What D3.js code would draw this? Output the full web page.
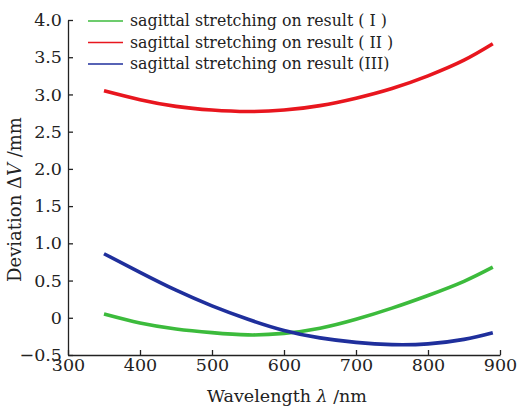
<!DOCTYPE html>
<html>
<head>
<meta charset="utf-8">
<script src="https://cdn.jsdelivr.net/npm/d3@7"></script>
<style>
body { margin: 0; background: #fff; }
svg text { font-family: "DejaVu Serif", serif; fill: #222; }
</style>
</head>
<body>
<div id="chart"></div>
<script>
var wavelengths = [350, 400, 450, 500, 550, 600, 650, 700, 750, 800, 850, 890];
var resultI   = [0.05, -0.07, -0.15, -0.20, -0.23, -0.21, -0.14, -0.02, 0.13, 0.30, 0.49, 0.68];
var resultII  = [3.05, 2.93, 2.84, 2.79, 2.77, 2.79, 2.85, 2.95, 3.08, 3.25, 3.46, 3.68];
var resultIII = [0.86, 0.61, 0.37, 0.16, -0.02, -0.17, -0.27, -0.33, -0.36, -0.35, -0.29, -0.20];
var xTicks = [300, 400, 500, 600, 700, 800, 900];
var yTicks = [-0.5, 0, 0.5, 1.0, 1.5, 2.0, 2.5, 3.0, 3.5, 4.0];
var legendLabels = ["sagittal stretching on result ( I )", "sagittal stretching on result ( II )", "sagittal stretching on result (III)"];

var series = [
	{ name: legendLabels[0], values: resultI, color: "#3cbb3c" },
	{ name: legendLabels[1], values: resultII, color: "#e8161e" },
	{ name: legendLabels[2], values: resultIII, color: "#1f2f9c" }
];

var width = 517, height = 406;
var padding = {left:68, right:17, top:20, bottom:51};

var svg = d3.select("#chart").append("svg")
	.attr("width", width)
	.attr("height", height);

var xScale = d3.scaleLinear()
	.domain([300, 900])
	.range([padding.left, width - padding.right]);

var yScale = d3.scaleLinear()
	.domain([-0.5, 4.0])
	.range([height - padding.bottom, padding.top]);

var line = d3.line()
	.curve(d3.curveNatural)
	.x(function(d) { return xScale(d[0]); })
	.y(function(d) { return yScale(d[1]); });

series.forEach(function(s) {
	svg.append("path")
		.datum(wavelengths.map(function(w, i) { return [w, s.values[i]]; }))
		.attr("fill", "none")
		.attr("stroke", s.color)
		.attr("stroke-width", 3.6)
		.attr("d", line);
});

var xAxis = d3.axisBottom(xScale)
	.tickValues(xTicks)
	.tickFormat(d3.format("d"))
	.tickSizeInner(-5)
	.tickSizeOuter(0)
	.tickPadding(5);

var yAxis = d3.axisLeft(yScale)
	.tickValues(yTicks)
	.tickFormat(function(d) { return d === 0 ? "0" : d3.format(".1f")(d); })
	.tickSizeInner(-5)
	.tickSizeOuter(0)
	.tickPadding(6);

var gx = svg.append("g")
	.attr("transform", "translate(0," + (height - padding.bottom) + ")")
	.call(xAxis);
var gy = svg.append("g")
	.attr("transform", "translate(" + padding.left + ",0)")
	.call(yAxis);

[gx, gy].forEach(function(g) {
	g.selectAll("path, line").attr("stroke", "#222").attr("stroke-width", 1.3);
	g.selectAll("text").style("font-size", "17.5px").style("font-family", "DejaVu Serif, serif").attr("fill", "#222");
});
gx.selectAll("text").attr("dy", "0.6em");

svg.append("text")
	.attr("x", (padding.left + width - padding.right) / 2 + 3)
	.attr("y", height - 4)
	.attr("text-anchor", "middle")
	.style("font-size", "17.5px")
	.html("Wavelength <tspan font-style='italic'>λ</tspan> /nm");

svg.append("text")
	.attr("transform", "translate(21," + ((padding.top + height - padding.bottom) / 2 + 12) + ") rotate(-90)")
	.attr("text-anchor", "middle")
	.style("font-size", "18px")
	.html("Deviation Δ<tspan font-style='italic'>V</tspan> /mm");

var legend = svg.append("g");
series.forEach(function(s, i) {
	var y = 21 + i * 21.5;
	legend.append("line")
		.attr("x1", 88).attr("x2", 123)
		.attr("y1", y).attr("y2", y)
		.attr("stroke", s.color)
		.attr("stroke-width", 1.3);
	legend.append("text")
		.attr("x", 130)
		.attr("y", y + 5)
		.style("font-size", "15.8px")
		.text(s.name);
});
</script>
</body>
</html>
